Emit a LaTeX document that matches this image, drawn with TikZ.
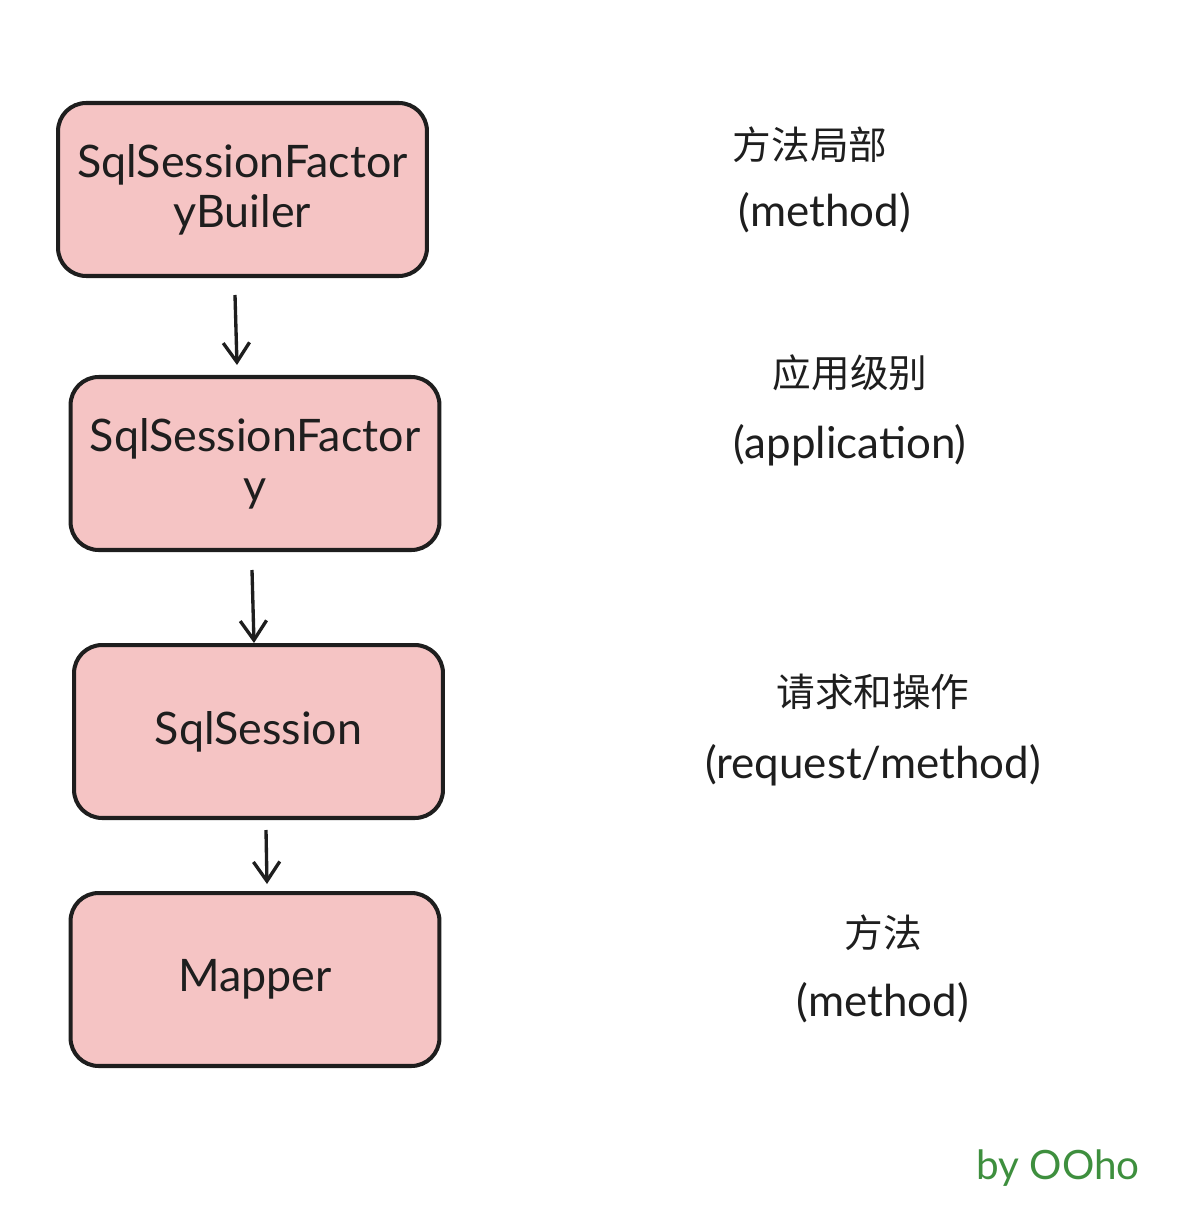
\documentclass[tikz,border=0pt]{standalone}
\usepackage{fontspec}
\setmainfont{Lato}
\newfontfamily\cjk{Noto Sans CJK SC}
\usetikzlibrary{arrows.meta}
\definecolor{boxfill}{HTML}{F5C4C4}
\definecolor{ink}{HTML}{1E1E1E}
\definecolor{sign}{HTML}{3E8F3E}
\tikzset{
  px/.style={x=0.02cm,y=-0.02cm},
  stage/.style={draw=ink,fill=boxfill,line width=2.3pt,rounded corners=16pt,minimum width=7.38cm,minimum height=3.46cm,align=center,font=\fontsize{25.5}{28.5}\selectfont,text=ink},
  flow/.style={draw=ink,line width=1.9pt,-{Straight Barb[length=11pt,width=15pt,line width=1.9pt]}},
  note/.style={text=ink,font=\fontsize{25}{28}\selectfont},
  cnote/.style={text=ink,font=\cjk\fontsize{22}{26}\selectfont}
}
\begin{document}
\begin{tikzpicture}[px]
\useasboundingbox (0,0) rectangle (1176,1216);
\node[stage] (b1) at (242.5,189.5) {SqlSessionFactor\\yBuiler};
\node[stage] (b2) at (255,463.5) {SqlSessionFactor\\y};
\node[stage] (b3) at (258.5,731.5) {SqlSession};
\node[stage] (b4) at (255,979.5) {Mapper};
\coordinate (a1s) at (235,295); \coordinate (a1e) at (237,365);
\coordinate (a2s) at (252,570); \coordinate (a2e) at (254,643);
\coordinate (a3s) at (266,830); \coordinate (a3e) at (267,884);
\draw[flow] (a1s) -- (a1e);
\draw[flow] (a2s) -- (a2e);
\draw[flow] (a3s) -- (a3e);
\node[cnote] (t1) at (810,145) {方法局部};
\node[note] (e1) at (825,213) {(method)};
\node[cnote] (t2) at (850,373) {应用级别};
\node[note] (e2) at (850,445) {(application)};
\node[cnote] (t3) at (873,692) {请求和操作};
\node[note] (e3) at (873,765) {(request/method)};
\node[cnote] (t4) at (883,933) {方法};
\node[note] (e4) at (883,1003) {(method)};
\node[text=sign,font=\fontsize{23}{26}\selectfont] (sig) at (1058,1168) {by OOho};
\end{tikzpicture}
\end{document}
